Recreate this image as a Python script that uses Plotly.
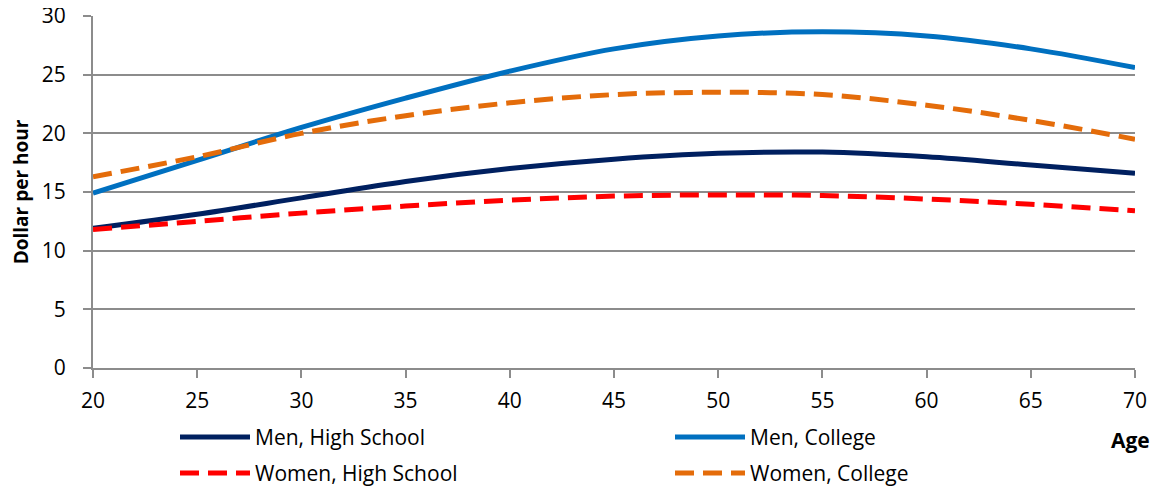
import plotly.graph_objects as go

ages = [20, 25, 30, 35, 40, 45, 50, 55, 60, 65, 70]
men_hs = [11.9, 13.1, 14.5, 15.9, 17.0, 17.8, 18.3, 18.4, 18.0, 17.3, 16.6]
men_college = [14.9, 17.7, 20.5, 23.0, 25.3, 27.2, 28.3, 28.65, 28.3, 27.2, 25.6]
women_hs = [11.8, 12.5, 13.2, 13.8, 14.3, 14.65, 14.75, 14.7, 14.4, 13.95, 13.4]
women_college = [16.3, 18.0, 20.0, 21.5, 22.6, 23.3, 23.5, 23.3, 22.4, 21.1, 19.5]

x_ticks = [20, 25, 30, 35, 40, 45, 50, 55, 60, 65, 70]
y_ticks = [0, 5, 10, 15, 20, 25, 30]

FONT = "Open Sans"
# page body has an 8px margin, so the figure is laid out 8px up/left of page coordinates
OFF = 8
W, H = 1159 - OFF, 486 - OFF
PLOT_L = 93 - OFF
PLOT_R = 1135 - OFF
PLOT_T = 16 - OFF
PLOT_B = 368 - OFF
PLOT_W = PLOT_R - PLOT_L
PLOT_H = PLOT_B - PLOT_T
ITEM_W = 70

# name, values, colour, dash, legend id, legend text start (page px), legend row centre (page px)
series = [
    ("Men, High School", men_hs, "#002060", "solid", "legend", 255, 437),
    ("Men, College", men_college, "#0070C0", "solid", "legend2", 750, 437),
    ("Women, High School", women_hs, "#FF0000", "19px,9px", "legend3", 255, 473),
    ("Women, College", women_college, "#E46C0A", "19px,9px", "legend4", 750, 473),
]

fig = go.Figure()
legends = {}
for name, vals, color, dash, lg, tx, ty in series:
    fig.add_trace(go.Scatter(
        x=ages, y=vals, name=name, mode="lines", legend=lg,
        line=dict(color=color, width=5, dash=dash, shape="spline", smoothing=1.0),
    ))
    h = 21 * 1.3 + 3
    top_px = ty - OFF - 5 - h / 2
    left_px = tx - OFF - (ITEM_W + 10)
    legends[lg] = dict(
        orientation="h", xanchor="left", yanchor="top",
        x=(left_px - PLOT_L) / PLOT_W, y=(PLOT_B - top_px) / PLOT_H,
        font=dict(family=FONT, size=21, color="black"),
        itemwidth=ITEM_W, bgcolor="rgba(0,0,0,0)", borderwidth=0,
    )

fig.update_layout(
    width=W, height=H,
    margin=dict(l=PLOT_L, r=W - PLOT_R, t=PLOT_T, b=H - PLOT_B, autoexpand=False),
    paper_bgcolor="white", plot_bgcolor="white",
    font=dict(family=FONT, size=21, color="black"),
    showlegend=True,
    xaxis=dict(
        range=[20, 70], tickvals=x_ticks, ticktext=[str(t) for t in x_ticks],
        showgrid=False, zeroline=False, automargin=False,
        showline=True, linecolor="#8C8C8C", linewidth=2,
        ticks="outside", ticklen=8, tickcolor="#8C8C8C", tickwidth=2,
        ticklabelstandoff=5, ticklabeloverflow="allow",
        tickfont=dict(family=FONT, size=21, color="black"),
    ),
    yaxis=dict(
        range=[0, 30], tickvals=y_ticks, automargin=False,
        showgrid=True, gridcolor="#8C8C8C", gridwidth=1.5, zeroline=False,
        showline=True, linecolor="#8C8C8C", linewidth=2,
        ticks="outside", ticklen=8, tickcolor="#8C8C8C", tickwidth=2,
        ticklabelstandoff=13, ticklabeloverflow="allow",
        tickfont=dict(family=FONT, size=21, color="black"),
        title=dict(text="<b>Dollar per hour</b>", font=dict(family=FONT, size=19, color="black"), standoff=12),
    ),
    annotations=[
        dict(text="<b>Age</b>", xref="paper", yref="paper", x=(1130 - OFF - PLOT_L) / PLOT_W,
             y=(PLOT_B - (440 - OFF)) / PLOT_H,
             xanchor="center", yanchor="middle", showarrow=False,
             font=dict(family=FONT, size=21, color="black")),
    ],
    **legends,
)

fig.write_html("out.html")
